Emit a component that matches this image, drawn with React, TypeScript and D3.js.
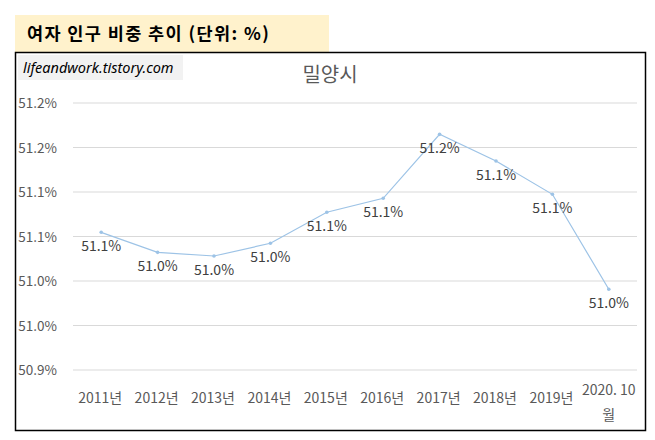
import { scaleLinear, scaleBand, line } from "d3"

const categories = ["2011년", "2012년", "2013년", "2014년", "2015년", "2016년", "2017년", "2018년", "2019년", "2020. 10|월"]
const values = [51.0547, 51.0322, 51.0281, 51.0424, 51.0772, 51.0929, 51.1648, 51.1348, 51.0974, 50.9907]
const yTicks = [50.9, 50.95, 51.0, 51.05, 51.1, 51.15, 51.2]
const yTickLabels = ["50.9%", "51.0%", "51.0%", "51.1%", "51.1%", "51.2%", "51.2%"]

const W = 655
const H = 440
const font = "'Noto Sans CJK KR', 'Noto Sans', sans-serif"

const App = () => {
  const plot = { left: 73, right: 637, top: 103, bottom: 370 }

  const xScale = scaleBand().domain(categories).range([plot.left, plot.right])
  const yScale = scaleLinear().domain([50.9, 51.2]).range([plot.bottom, plot.top])
  const cx = (c: string) => (xScale(c) as number) + xScale.bandwidth() / 2

  const path = line<number>()
    .x((_, i) => cx(categories[i]))
    .y(d => yScale(d))(values)

  const gridLines = yTicks.map((t, i) => (
    <g key={i}>
      <line x1={plot.left} x2={plot.right} y1={yScale(t)} y2={yScale(t)} stroke="#d9d9d9" strokeWidth={1} />
      <text x={57} y={yScale(t) + 5} textAnchor="end" fontSize="13.5px" fill="#595959">{yTickLabels[i]}</text>
    </g>
  ))

  const xLabels = categories.map(c => {
    const parts = c.split("|")
    if (parts.length > 1) {
      return (
        <text key={c} textAnchor="middle" fontSize="14px" fill="#595959">
          <tspan x={cx(c)} y={395}>{parts[0]}</tspan>
          <tspan x={cx(c)} y={420}>{parts[1]}</tspan>
        </text>
      )
    }
    return <text key={c} x={cx(c) - 1} y={403} textAnchor="middle" fontSize="14px" fill="#595959">{c}</text>
  })

  const points = values.map((v, i) => (
    <circle key={i} cx={cx(categories[i])} cy={yScale(v)} r={1.8} fill="#9dc3e6" />
  ))

  const labels = values.map((v, i) => (
    <text key={i} x={cx(categories[i])} y={yScale(v) + 19} textAnchor="middle" fontSize="14px" fill="#404040">
      {v.toFixed(1)}%
    </text>
  ))

  return (
    <div style={{ position: "absolute", left: 0, top: 0 }}>
      <svg width={W} height={H} viewBox={`0 0 ${W} ${H}`} style={{ display: "block", fontFamily: font }}>
        <rect x={0} y={0} width={W} height={H} fill="#fff" />
        {/* header box */}
        <rect x={15} y={15} width={314} height={37} fill="#fff2cc" />
        <text x={27} y={40} fontSize="17.5px" fontWeight="bold" letterSpacing="1.4px" fill="#000">여자 인구 비중 추이 (단위: %)</text>
        {/* chart frame */}
        <rect x={15.5} y={52.5} width={630} height={378} fill="#fff" stroke="#000" strokeWidth={1.5} />
        <rect x={18} y={55} width={165} height={25} fill="#f2f2f2" />
        <text x={23} y={72.5} fontSize="14.5px" fontStyle="italic" fill="#000" fontFamily="'Noto Sans', sans-serif">lifeandwork.tistory.com</text>
        <text x={330} y={82} textAnchor="middle" fontSize="20px" fill="#595959">밀양시</text>
        {gridLines}
        {xLabels}
        <path d={path ?? ""} fill="none" stroke="#9dc3e6" strokeWidth={1.2} />
        {points}
        {labels}
      </svg>
    </div>
  )
}

export default App
